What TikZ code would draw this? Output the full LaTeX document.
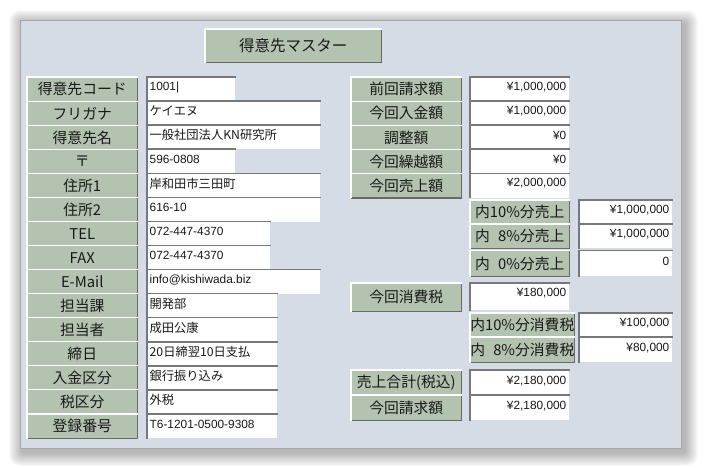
\documentclass[tikz,border=0pt]{standalone}
\usepackage{fontspec}
\setmainfont{Noto Sans CJK JP}
\newfontfamily\latf{Liberation Sans}
\definecolor{panel}{RGB}{214,220,230}
\definecolor{lblg}{RGB}{180,194,176}
\definecolor{edgedark}{RGB}{105,105,105}
\definecolor{sunk}{RGB}{120,120,120}
\definecolor{txt}{RGB}{25,25,25}
\tikzset{
  lbl/.style={fill=lblg, inner sep=0pt, anchor=north west, text=txt,
    font=\fontsize{11.1}{13}\selectfont},
  valbox/.style={fill=white, inner sep=0pt, anchor=north west},
  vtxtl/.style={anchor=west, inner sep=0pt, xshift=1.8pt, yshift=1.6pt, text=txt},
  vtxtr/.style={anchor=east, inner sep=0pt, xshift=-2.2pt, yshift=1.6pt, text=txt},
  jp/.style={font=\fontsize{9.2}{11}\selectfont},
  num/.style={font=\latf\fontsize{8.9}{11}\selectfont},
  hi/.style={white, line width=0.8pt},
  lo/.style={edgedark, line width=1.1pt},
  sk/.style={sunk, line width=1.1pt},
}
% label button: name, x, y, w, h, text
\newcommand\Lbl[6]{%
  \node[lbl, minimum width=#4*0.75pt, minimum height=#5*0.75pt] (#1) at (#2,#3) {#6};
  \draw[lo] (#1.north east) -- (#1.south east) -- (#1.south west);
  \draw[hi] (#1.south west) -- (#1.north west) -- (#1.north east);
}
% value field: name, x, y, w, h
\newcommand\Fld[5]{%
  \node[valbox, minimum width=#4*0.75pt, minimum height=#5*0.75pt] (#1) at (#2,#3) {};
  \draw[sk] (#1.south west) -- (#1.north west) -- (#1.north east);
}
\begin{document}
\begin{tikzpicture}[x=0.75pt, y=-0.75pt]
\useasboundingbox (0,0) rectangle (711,468);
% soft shadow
\foreach \i in {1,...,14} {
  \fill[black, opacity=0.024, rounded corners=\i*0.6pt] (23-\i,24-\i) rectangle (684+\i,452+\i);
}
\fill[panel] (20,20) rectangle (681,448);
\draw[gray!70, line width=0.4pt] (20,20) rectangle (681,448);

% title
\node[lbl, minimum width=176*0.75pt, minimum height=33*0.75pt, font=\fontsize{11.6}{14}\selectfont] (title) at (205,29) {得意先マスター};
\draw[lo] (title.north east) -- (title.south east) -- (title.south west);
\draw[hi] (title.south west) -- (title.north west) -- (title.north east);

% left column labels
\Lbl{l1}{27}{77.00}{110}{24.07}{得意先コード}
\Lbl{l2}{27}{101.07}{110}{24.07}{フリガナ}
\Lbl{l3}{27}{125.14}{110}{24.07}{得意先名}
\Lbl{l4}{27}{149.21}{110}{24.07}{〒}
\Lbl{l5}{27}{173.28}{110}{24.07}{住所1}
\Lbl{l6}{27}{197.35}{110}{24.07}{住所2}
\Lbl{l7}{27}{221.42}{110}{24.07}{TEL}
\Lbl{l8}{27}{245.49}{110}{24.07}{FAX}
\Lbl{l9}{27}{269.56}{110}{24.07}{E-Mail}
\Lbl{l10}{27}{293.63}{110}{24.07}{担当課}
\Lbl{l11}{27}{317.70}{110}{24.07}{担当者}
\Lbl{l12}{27}{341.77}{110}{24.07}{締日}
\Lbl{l13}{27}{365.84}{110}{24.07}{入金区分}
\Lbl{l14}{27}{389.91}{110}{24.07}{税区分}
\Lbl{l15}{27}{413.98}{110}{24.07}{登録番号}

% left column values
\Fld{v1}{147}{77.00}{88}{24.07}
\Fld{v2}{147}{101.07}{173}{24.07}
\Fld{v3}{147}{125.14}{173}{24.07}
\Fld{v4}{147}{149.21}{88}{24.07}
\Fld{v5}{147}{173.28}{173}{24.07}
\Fld{v6}{147}{197.35}{173}{24.07}
\Fld{v7}{147}{221.42}{123}{24.07}
\Fld{v8}{147}{245.49}{123}{24.07}
\Fld{v9}{147}{269.56}{173}{24.07}
\Fld{v10}{147}{293.63}{130}{24.07}
\Fld{v11}{147}{317.70}{130}{24.07}
\Fld{v12}{147}{341.77}{130}{24.07}
\Fld{v13}{147}{365.84}{130}{24.07}
\Fld{v14}{147}{389.91}{130}{24.07}
\Fld{v15}{147}{413.98}{130}{24.07}
\node[vtxtl, num] (t1) at (v1.west) {1001|};
\node[vtxtl, jp] (t2) at (v2.west) {ケイエヌ};
\node[vtxtl, jp] (t3) at (v3.west) {一般社団法人KN研究所};
\node[vtxtl, num] (t4) at (v4.west) {596-0808};
\node[vtxtl, jp] (t5) at (v5.west) {岸和田市三田町};
\node[vtxtl, num] (t6) at (v6.west) {616-10};
\node[vtxtl, num] (t7) at (v7.west) {072-447-4370};
\node[vtxtl, num] (t8) at (v8.west) {072-447-4370};
\node[vtxtl, num] (t9) at (v9.west) {info@kishiwada.biz};
\node[vtxtl, jp] (t10) at (v10.west) {開発部};
\node[vtxtl, jp] (t11) at (v11.west) {成田公康};
\node[vtxtl, jp] (t12) at (v12.west) {20日締翌10日支払};
\node[vtxtl, jp] (t13) at (v13.west) {銀行振り込み};
\node[vtxtl, jp] (t14) at (v14.west) {外税};
\node[vtxtl, num] (t15) at (v15.west) {T6-1201-0500-9308};

% right column labels
\Lbl{r1}{351}{77.00}{110}{24.07}{前回請求額}
\Lbl{r2}{351}{101.07}{110}{24.07}{今回入金額}
\Lbl{r3}{351}{125.14}{110}{24.07}{調整額}
\Lbl{r4}{351}{149.21}{110}{24.07}{今回繰越額}
\Lbl{r5}{351}{173.28}{110}{24.07}{今回売上額}
\Fld{w1}{470}{77.00}{99}{24.07}
\Fld{w2}{470}{101.07}{99}{24.07}
\Fld{w3}{470}{125.14}{99}{24.07}
\Fld{w4}{470}{149.21}{99}{24.07}
\Fld{w5}{470}{173.28}{99}{24.07}
\node[vtxtr, num] (u1) at (w1.east) {¥1,000,000};
\node[vtxtr, num] (u2) at (w2.east) {¥1,000,000};
\node[vtxtr, num] (u3) at (w3.east) {¥0};
\node[vtxtr, num] (u4) at (w4.east) {¥0};
\node[vtxtr, num] (u5) at (w5.east) {¥2,000,000};

% sales breakdown
\Lbl{s1}{470}{200.0}{99}{24}{内10\%分売上}
\Lbl{s2}{470}{224.0}{99}{24}{内\hphantom{1}8\%分売上}
\Lbl{s3}{470}{250.5}{99}{25.5}{内\hphantom{1}0\%分売上}
\Fld{x1}{579}{200.0}{93}{24}
\Fld{x2}{579}{224.0}{93}{24}
\Fld{x3}{579}{250.5}{93}{25.5}
\node[vtxtr, num] (y1) at (x1.east) {¥1,000,000};
\node[vtxtr, num] (y2) at (x2.east) {¥1,000,000};
\node[vtxtr, num] (y3) at (x3.east) {0};

% consumption tax
\Lbl{c0}{351}{283.0}{110}{28}{今回消費税}
\Fld{z0}{470}{283.0}{99}{27}
\node[vtxtr, num, yshift=1.5pt] (q0) at (z0.east) {¥180,000};
\Lbl{c1}{470}{313.0}{99}{24}{内10\%分消費税}
\Lbl{c2}{470}{337.0}{99}{25}{内\hphantom{1}8\%分消費税}
\Fld{z1}{579}{313.0}{93}{24}
\Fld{z2}{579}{337.0}{93}{25}
\node[vtxtr, num] (q1) at (z1.east) {¥100,000};
\node[vtxtr, num] (q2) at (z2.east) {¥80,000};

% totals
\Lbl{g1}{351}{370.0}{110}{25}{売上合計(税込)}
\Lbl{g2}{351}{395.0}{110}{25}{今回請求額}
\Fld{h1}{470}{370.0}{99}{25}
\Fld{h2}{470}{395.0}{99}{25}
\node[vtxtr, num] (k1) at (h1.east) {¥2,180,000};
\node[vtxtr, num] (k2) at (h2.east) {¥2,180,000};
\end{tikzpicture}
\end{document}
